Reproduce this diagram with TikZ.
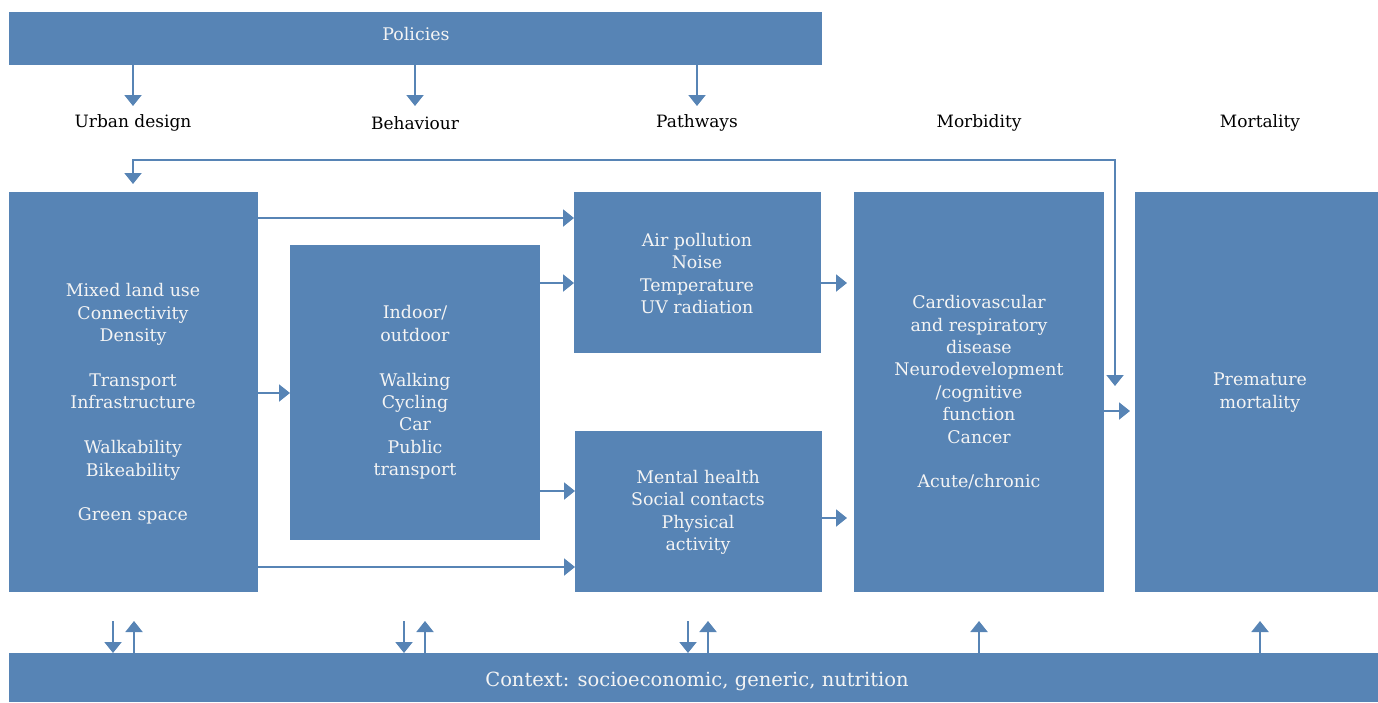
\documentclass[tikz,border=0pt]{standalone}
\usepackage{fontspec}
\setmainfont{DejaVu Serif}
\usetikzlibrary{arrows.meta}
\definecolor{boxblue}{HTML}{5784B5}
\definecolor{txtw}{HTML}{F4F4F4}
\tikzset{
  box/.style={fill=boxblue, draw=none, inner sep=0pt, outer sep=0pt},
  btxt/.style={text=txtw, align=center, font=\fontsize{17.4}{22.4}\selectfont, inner sep=0pt},
  lbl/.style={text=black, font=\fontsize{17}{22.4}\selectfont, inner sep=0pt},
  arr/.style={draw=boxblue, line width=2pt, -{Triangle[width=17pt,length=11pt]}},
  arrb/.style={draw=boxblue, line width=2pt, {Triangle[width=17pt,length=11pt]}-{Triangle[width=17pt,length=11pt]}},
}
\begin{document}
\begin{tikzpicture}[x=1pt,y=-1pt]
\useasboundingbox (0,0) rectangle (1378,702);
% boxes
\node[box, minimum width=813pt, minimum height=53pt] (pol) at (415.5,38.5) {};
\node[btxt] (polt) at (416,34) {Policies};
\node[box, minimum width=249pt, minimum height=400pt] (ud) at (133.5,392) {};
\node[box, minimum width=250pt, minimum height=295pt] (beh) at (415,392.5) {};
\node[box, minimum width=247pt, minimum height=161pt] (air) at (697.5,272.5) {};
\node[box, minimum width=247pt, minimum height=161pt] (men) at (698.5,511.5) {};
\node[box, minimum width=250pt, minimum height=400pt] (morb) at (979,392) {};
\node[box, minimum width=243pt, minimum height=400pt] (mort) at (1256.5,392) {};
\node[box, minimum width=1369pt, minimum height=49pt] (ctx) at (693.5,677.5) {};
% box texts
\node[btxt] (udt) at (133,404) {Mixed land use\\Connectivity\\Density\\[22.4pt]Transport\\Infrastructure\\[22.4pt]Walkability\\Bikeability\\[22.4pt]Green space};
\node[btxt] (beht) at (415,392.5) {Indoor/\\outdoor\\[22.4pt]Walking\\Cycling\\Car\\Public\\transport};
\node[btxt] (airt) at (697,273.5) {Air pollution\\Noise\\Temperature\\UV radiation};
\node[btxt] (ment) at (698,512.5) {Mental health\\Social contacts\\Physical\\activity};
\node[btxt] (morbt) at (979,392.5) {Cardiovascular\\and respiratory\\disease\\Neurodevelopment\\/cognitive\\function\\Cancer\\[22.4pt]Acute/chronic};
\node[btxt] (mortt) at (1260,392.5) {Premature\\mortality};
\node[btxt, font=\fontsize{19.5}{24}\selectfont] (ctxt) at (697,681) {Context: socioeconomic, generic, nutrition};
% column labels
\node[lbl] (l1) at (133,123) {Urban design};
\node[lbl] (l2) at (415,123) {Behaviour};
\node[lbl] (l3) at (697,123) {Pathways};
\node[lbl] (l4) at (979,123) {Morbidity};
\node[lbl] (l5) at (1260,123) {Mortality};
% policy arrows
\draw[arr] (pol.south -| l1) -- ++(0,41);
\draw[arr] (pol.south -| l2) -- ++(0,41);
\draw[arr] (pol.south -| l3) -- ++(0,41);
% feedback
\coordinate (fbtop) at (1115,160);
\coordinate (fbend) at (1115,386);
\draw[arrb, shorten <=8pt] (ud.north -| l1) -- (l1 |- fbtop) -- (fbtop) -- (fbend);
% horizontal arrows
\draw[arr] (ud.east |- 0,218) -- (air.west |- 0,218);
\draw[arr] (ud.east |- 0,393) -- (beh.west |- 0,393);
\draw[arr] (ud.east |- 0,567) -- (men.west |- 0,567);
\draw[arr] (beh.east |- 0,283) -- (air.west |- 0,283);
\draw[arr] (beh.east |- 0,491) -- (men.west |- 0,491);
\draw[arr, shorten >=7pt] (air.east |- 0,283) -- (morb.west |- 0,283);
\draw[arr, shorten >=7pt] (men.east |- 0,518) -- (morb.west |- 0,518);
\draw[arr, shorten >=5pt] (morb.east |- 0,411) -- (mort.west |- 0,411);
% context arrows
\draw[arr] (113,621) -- (ctx.north -| 113,0);
\draw[arr] (ctx.north -| 134,0) -- (134,621);
\draw[arr] (404,621) -- (ctx.north -| 404,0);
\draw[arr] (ctx.north -| 425,0) -- (425,621);
\draw[arr] (688,621) -- (ctx.north -| 688,0);
\draw[arr] (ctx.north -| 708,0) -- (708,621);
\draw[arr] (ctx.north -| 979,0) -- (979,621);
\draw[arr] (ctx.north -| 1260,0) -- (1260,621);
\end{tikzpicture}
\end{document}
